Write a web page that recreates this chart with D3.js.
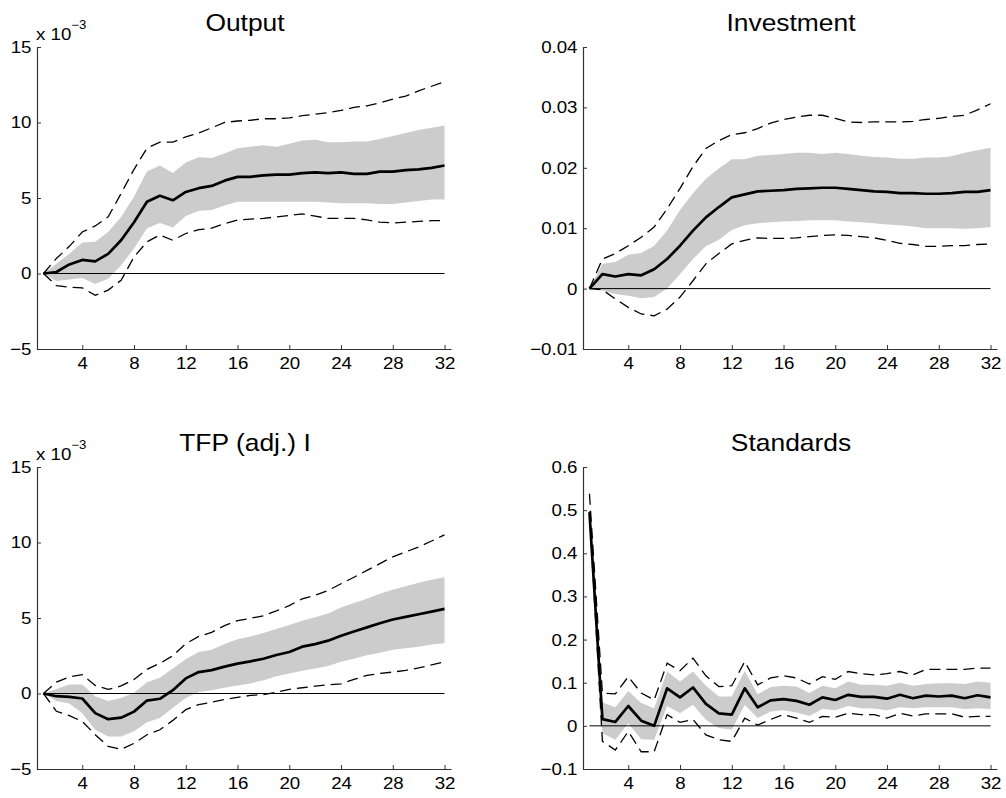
<!DOCTYPE html>
<html>
<head>
<meta charset="utf-8">
<script src="https://cdn.jsdelivr.net/npm/d3@7"></script>
<style>
body { margin: 0; background: #fff; }
text { font-family: "Liberation Sans", Arial, Helvetica, sans-serif; fill: #000; }
</style>
</head>
<body>
<svg id="chart" width="1006" height="798"></svg>
<script>
// horizons (quarters)
var horizon = [1, 2, 3, 4, 5, 6, 7, 8, 9, 10, 11, 12, 13, 14, 15, 16,
	17, 18, 19, 20, 21, 22, 23, 24, 25, 26, 27, 28, 29, 30, 31, 32];
var xTicks = [4, 8, 12, 16, 20, 24, 28, 32];

// Output (x 10^-3)
var outputMean = [0, 0.1, 0.6, 0.9, 0.8, 1.3, 2.2, 3.4, 4.75, 5.15, 4.85, 5.4, 5.65, 5.8, 6.15, 6.4,
	6.4, 6.5, 6.55, 6.55, 6.65, 6.7, 6.65, 6.7, 6.6, 6.6, 6.75, 6.75, 6.85, 6.9, 7.0, 7.15];
var outputBandLo = [0, -0.5, -0.4, -0.3, -0.7, -0.35, 0.55, 1.65, 3.0, 3.35, 3.05, 3.8, 4.15, 4.2, 4.5, 4.75,
	4.75, 4.75, 4.75, 4.75, 4.75, 4.75, 4.7, 4.65, 4.65, 4.65, 4.6, 4.6, 4.7, 4.8, 4.9, 4.9];
var outputBandHi = [0, 0.65, 1.3, 2.05, 2.1, 2.75, 3.75, 5.1, 6.75, 7.15, 6.65, 7.35, 7.7, 7.65, 7.95, 8.3,
	8.4, 8.5, 8.4, 8.6, 8.8, 8.85, 8.7, 8.7, 8.75, 8.75, 8.9, 9.1, 9.3, 9.5, 9.65, 9.8];
var outputDashLo = [0, -0.8, -0.9, -0.95, -1.45, -1.1, -0.45, 1.1, 2.1, 2.55, 2.2, 2.65, 2.9, 3.0, 3.3, 3.55,
	3.6, 3.65, 3.75, 3.85, 3.95, 3.8, 3.65, 3.65, 3.65, 3.55, 3.4, 3.35, 3.4, 3.45, 3.5, 3.5];
var outputDashHi = [0, 1.0, 1.8, 2.75, 3.15, 3.75, 5.3, 6.9, 8.3, 8.7, 8.7, 9.05, 9.3, 9.65, 10.0, 10.1,
	10.15, 10.25, 10.25, 10.3, 10.45, 10.55, 10.65, 10.8, 11.0, 11.1, 11.3, 11.55, 11.75, 12.1, 12.4, 12.7];

// Investment
var investMean = [0, 0.0024, 0.002, 0.0024, 0.0022, 0.0032, 0.0049, 0.0071, 0.0096, 0.0118, 0.0135, 0.0151, 0.0156, 0.0161, 0.0162, 0.0163,
	0.0165, 0.0166, 0.0167, 0.0167, 0.0165, 0.0163, 0.0161, 0.016, 0.0158, 0.0158, 0.0157, 0.0157, 0.0158, 0.016, 0.016, 0.0163];
var investBandLo = [0, -0.0003, -0.0009, -0.0012, -0.0016, -0.0014, 0.0, 0.0024, 0.0049, 0.007, 0.0081, 0.0097, 0.0105, 0.0108, 0.011, 0.0111,
	0.0112, 0.0113, 0.0113, 0.0113, 0.0111, 0.011, 0.0108, 0.0106, 0.0105, 0.0103, 0.01, 0.01, 0.01, 0.0099, 0.01, 0.0102];
var investBandHi = [0, 0.0041, 0.0044, 0.0056, 0.0059, 0.0071, 0.0096, 0.013, 0.0158, 0.0182, 0.0199, 0.0214, 0.0214, 0.022, 0.0221, 0.0223,
	0.0225, 0.0225, 0.0223, 0.0225, 0.0223, 0.022, 0.0218, 0.0217, 0.0215, 0.0215, 0.0217, 0.0217, 0.0219, 0.0225, 0.0229, 0.0233];
var investDashLo = [0, -0.0002, -0.0017, -0.0031, -0.0042, -0.0045, -0.0034, -0.0014, 0.0013, 0.0041, 0.0058, 0.0074, 0.008, 0.0084, 0.0083, 0.0083,
	0.0084, 0.0086, 0.0088, 0.0089, 0.0088, 0.0086, 0.0084, 0.008, 0.0075, 0.0073, 0.007, 0.007, 0.0071, 0.0071, 0.0073, 0.0074];
var investDashHi = [0, 0.0049, 0.0058, 0.0071, 0.0085, 0.0102, 0.0132, 0.0166, 0.0202, 0.0232, 0.0245, 0.0255, 0.0258, 0.0265, 0.0274, 0.028,
	0.0284, 0.0287, 0.0287, 0.0282, 0.0276, 0.0275, 0.0276, 0.0276, 0.0276, 0.0277, 0.028, 0.0282, 0.0285, 0.0287, 0.0296, 0.0306];

// TFP (adj.) I (x 10^-3)
var tfpMean = [0, -0.18, -0.22, -0.33, -1.3, -1.7, -1.6, -1.2, -0.47, -0.35, 0.22, 1.0, 1.42, 1.55, 1.78, 1.98,
	2.13, 2.3, 2.55, 2.75, 3.1, 3.27, 3.5, 3.82, 4.1, 4.38, 4.65, 4.9, 5.07, 5.25, 5.42, 5.6];
var tfpBandLo = [0, -0.5, -0.67, -1.3, -2.4, -2.85, -2.85, -2.5, -1.9, -1.62, -0.95, -0.3, 0.1, 0.22, 0.38, 0.53,
	0.67, 0.87, 1.15, 1.33, 1.5, 1.65, 1.82, 2.1, 2.3, 2.53, 2.7, 2.9, 3.0, 3.1, 3.25, 3.33];
var tfpBandHi = [0, 0.3, 0.6, 0.6, -0.18, -0.5, -0.3, 0.05, 0.75, 1.05, 1.65, 2.27, 2.75, 2.9, 3.27, 3.6,
	3.78, 4.0, 4.27, 4.53, 4.82, 5.05, 5.3, 5.7, 6.0, 6.27, 6.6, 6.87, 7.1, 7.33, 7.53, 7.7];
var tfpDashLo = [0, -1.18, -1.47, -1.85, -2.73, -3.5, -3.7, -3.3, -2.73, -2.4, -1.78, -1.07, -0.73, -0.58, -0.4, -0.25,
	-0.13, -0.07, 0.09, 0.27, 0.38, 0.49, 0.58, 0.64, 0.93, 1.2, 1.33, 1.42, 1.53, 1.69, 1.89, 2.1];
var tfpDashHi = [0, 0.75, 1.1, 1.25, 0.53, 0.27, 0.5, 0.93, 1.6, 2.0, 2.5, 3.3, 3.78, 4.05, 4.5, 4.82,
	4.98, 5.15, 5.47, 5.82, 6.27, 6.5, 6.82, 7.27, 7.7, 8.15, 8.6, 9.05, 9.38, 9.7, 10.1, 10.5];

// Standards
var stdMean = [0.495, 0.0155, 0.009, 0.046, 0.012, 0.0, 0.087, 0.066, 0.089, 0.051, 0.029, 0.026, 0.087, 0.043, 0.059, 0.062,
	0.058, 0.049, 0.066, 0.06, 0.072, 0.067, 0.067, 0.063, 0.072, 0.064, 0.07, 0.068, 0.07, 0.064, 0.071, 0.066];
var stdBandLo = [0.485, -0.017, -0.032, 0.006, -0.031, -0.032, 0.046, 0.029, 0.049, 0.014, -0.005, -0.009, 0.049, 0.018, 0.033, 0.036,
	0.031, 0.023, 0.039, 0.036, 0.046, 0.041, 0.04, 0.036, 0.043, 0.041, 0.043, 0.043, 0.043, 0.039, 0.041, 0.039];
var stdBandHi = [0.505, 0.054, 0.043, 0.081, 0.053, 0.041, 0.126, 0.103, 0.126, 0.093, 0.068, 0.068, 0.128, 0.073, 0.09, 0.093,
	0.091, 0.076, 0.093, 0.087, 0.103, 0.095, 0.095, 0.093, 0.1, 0.093, 0.097, 0.099, 0.099, 0.097, 0.103, 0.1];
var stdDashLo = [0.497, -0.036, -0.056, -0.013, -0.06, -0.06, 0.026, 0.008, 0.015, -0.021, -0.032, -0.036, 0.018, 0.002, 0.015, 0.026,
	0.018, 0.008, 0.022, 0.02, 0.029, 0.026, 0.026, 0.018, 0.029, 0.023, 0.028, 0.028, 0.028, 0.02, 0.022, 0.022];
var stdDashHi = [0.538, 0.076, 0.074, 0.114, 0.076, 0.06, 0.145, 0.128, 0.157, 0.116, 0.091, 0.093, 0.149, 0.095, 0.111, 0.116,
	0.111, 0.097, 0.114, 0.108, 0.126, 0.121, 0.118, 0.121, 0.126, 0.118, 0.131, 0.131, 0.131, 0.131, 0.134, 0.134];

// y ticks
var milliTicks = [-5, 0, 5, 10, 15];
var milliLabels = ['\u22125', '0', '5', '10', '15'];
var investTicks = [-0.01, 0, 0.01, 0.02, 0.03, 0.04];
var investLabels = ['\u22120.01', '0', '0.01', '0.02', '0.03', '0.04'];
var stdTicks = [-0.1, 0, 0.1, 0.2, 0.3, 0.4, 0.5, 0.6];
var stdLabels = ['\u22120.1', '0', '0.1', '0.2', '0.3', '0.4', '0.5', '0.6'];

var titles = ['Output', 'Investment', 'TFP (adj.) I', 'Standards'];

var svg = d3.select('#chart');
var plotW = 414, plotH = 302;
var stretch = 1.1;

var panels = [
	{ title: titles[0], left: 37, top: 47, mean: outputMean, bandLo: outputBandLo, bandHi: outputBandHi, dashLo: outputDashLo, dashHi: outputDashHi,
		ticks: milliTicks, labels: milliLabels, exponent: true },
	{ title: titles[1], left: 583, top: 47, mean: investMean, bandLo: investBandLo, bandHi: investBandHi, dashLo: investDashLo, dashHi: investDashHi,
		ticks: investTicks, labels: investLabels, exponent: false },
	{ title: titles[2], left: 37, top: 467, mean: tfpMean, bandLo: tfpBandLo, bandHi: tfpBandHi, dashLo: tfpDashLo, dashHi: tfpDashHi,
		ticks: milliTicks, labels: milliLabels, exponent: true },
	{ title: titles[3], left: 583, top: 467, mean: stdMean, bandLo: stdBandLo, bandHi: stdBandHi, dashLo: stdDashLo, dashHi: stdDashHi,
		ticks: stdTicks, labels: stdLabels, exponent: false }
];

panels.forEach(function(p) {
	var g = svg.append('g')
		.attr('transform', 'translate(' + p.left + ',' + p.top + ')');

	var x = d3.scaleLinear().domain([0.5, 32.5]).range([0, plotW]);
	var y = d3.scaleLinear()
		.domain([p.ticks[0], p.ticks[p.ticks.length - 1]])
		.range([plotH, 0]);

	var band = d3.area()
		.x(function(d, i) { return x(horizon[i]); })
		.y0(function(d, i) { return y(p.bandLo[i]); })
		.y1(function(d) { return y(d); });

	var line = d3.line()
		.x(function(d, i) { return x(horizon[i]); })
		.y(function(d) { return y(d); });

	g.append('path')
		.attr('d', band(p.bandHi))
		.attr('fill', '#cccccc')
		.attr('stroke', 'none');

	g.append('line')
		.attr('x1', x(horizon[0]))
		.attr('x2', x(horizon[horizon.length - 1]))
		.attr('y1', y(0))
		.attr('y2', y(0))
		.attr('stroke', '#000')
		.attr('stroke-width', 1);

	[p.dashLo, p.dashHi].forEach(function(s) {
		g.append('path')
			.attr('d', line(s))
			.attr('fill', 'none')
			.attr('stroke', '#000')
			.attr('stroke-width', 1.3)
			.attr('stroke-dasharray', '11,6');
	});

	g.append('path')
		.attr('d', line(p.mean))
		.attr('fill', 'none')
		.attr('stroke', '#000')
		.attr('stroke-width', 2.7)
		.attr('stroke-linejoin', 'round');

	var yAxis = g.append('g')
		.call(d3.axisLeft(y)
			.tickValues(p.ticks)
			.tickFormat(function(d, i) { return p.labels[i]; })
			.tickSize(-4)
			.tickSizeOuter(0)
			.tickPadding(5));

	var xAxis = g.append('g')
		.attr('transform', 'translate(0,' + plotH + ')')
		.call(d3.axisBottom(x)
			.tickValues(xTicks)
			.tickSize(-4)
			.tickSizeOuter(0)
			.tickPadding(8));

	[yAxis, xAxis].forEach(function(a) {
		a.selectAll('text')
			.attr('font-size', 17)
			.attr('font-family', '"Liberation Sans", Arial, Helvetica, sans-serif')
			.attr('fill', '#000')
			.attr('transform', 'scale(' + stretch + ',1)');
		a.select('.domain').attr('stroke', '#333').attr('stroke-width', 1.2);
		a.selectAll('.tick line').attr('stroke', '#333');
	});

	g.append('text')
		.attr('transform', 'translate(' + (plotW / 2 + 1) + ',-16) scale(' + stretch + ',1)')
		.attr('text-anchor', 'middle')
		.attr('font-size', 24)
		.text(p.title);

	if (p.exponent) {
		var ex = g.append('text')
			.attr('transform', 'translate(-1,-7) scale(' + stretch + ',1)')
			.attr('font-size', 17);
		ex.append('tspan').text('x 10');
		ex.append('tspan')
			.attr('dy', -11)
			.attr('font-size', 12)
			.text('\u22123');
	}
});
</script>
</body>
</html>
